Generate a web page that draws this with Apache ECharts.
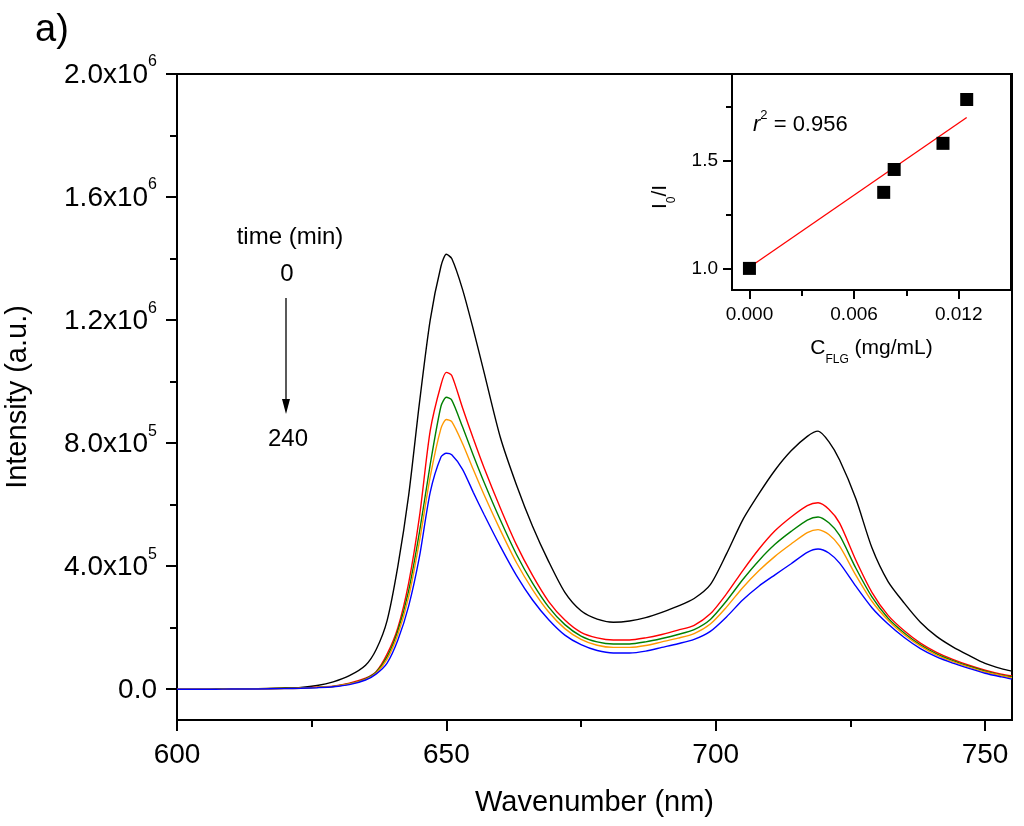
<!DOCTYPE html>
<html>
<head>
<meta charset="utf-8">
<script src="https://cdn.jsdelivr.net/npm/echarts@6/dist/echarts.min.js"></script>
<style>
html,body{margin:0;padding:0;background:#fff}
#chart{width:1024px;height:826px}
</style>
</head>
<body>
<div id="chart"></div>
<script>
// emission spectra, intensity in units of 1e3 counts
var wavelength=[600,605,607,610,615,620,623,626,629,632,635,637,639,641,643,645,647,649,650,651,653,655,657,660,663,666,669,672,675,678,681,684,687,690,693,696,699,702,705,708,711,714,717,719,721,723,726,729,732,735,738,741,744,747,750,753,755]
var int0=[null,null,2,2,2,4,6,12,24,44,78,130,223,400,630,930,1200,1375,1414,1400,1300,1170,1030,820,665,530,415,315,255,228,218,222,233,250,270,295,340,440,550,635,712,775,822,839,805,745,620,460,350,280,218,172,138,110,84,67,59]
var int1=[0,0,1,1,2,3,4,7,10,20,36,58,114,200,345,560,840,990,1030,1020,915,815,720,590,470,370,285,225,185,167,160,160,167,178,192,208,245,310,385,455,515,560,597,606,585,540,420,315,240,190,150,120,97,78,62,49,43]
var int2=[0,0,1,1,2,3,4,6,9,18,34,56,105,190,320,510,730,920,949,940,853,761,673,551,439,345,267,210,173,154,147,147,154,165,178,194,227,287,356,418,471,513,550,560,541,500,394,300,231,183,144,115,93,75,59,46,40]
var int3=[0,0,0,1,1,2,3,6,9,17,32,53,98,178,300,480,690,848,877,870,799,714,632,518,412,324,251,197,162,143,136,136,142,154,166,181,212,267,330,385,432,472,509,519,503,465,371,286,224,177,140,111,90,72,56,44,37]
var int4=[0,0,0,1,1,2,3,5,8,15,30,50,85,160,270,430,640,755,767,762,715,640,568,465,370,290,226,176,145,126,118,118,124,136,148,162,188,235,290,335,372,408,445,456,443,410,335,265,212,168,132,105,85,68,52,40,33]
var lineColors=['#000000','#ff0000','#008000','#ff9900','#0000ff']
var timeLabels=['0','240']

// inset: quenching ratio vs concentration
var concFLG=[0,0.0077,0.0083,0.0111,0.01246]
var ratioI0I=[1.0,1.352,1.458,1.579,1.782]
var fitX=[0,0.01246]
var fitY=[1.005,1.699]

var xMajor=[600,650,700,750]
var xMinor=[625,675,725]
var yMajor=[0,400000,800000,1200000,1600000,2000000]
var yMinor=[200000,600000,1000000,1400000,1800000]
var inXMajor=[0,0.006,0.012]
var inXMinor=[0.003,0.009]
var inYMajor=[1.0,1.5]
var inYMinor=[1.25,1.75]

var FONT='"Liberation Sans", Arial, sans-serif'
var chart=echarts.init(document.getElementById('chart'))

function yFmt(v){
  if(v===0) return '{a|0.0}'
  var e=Math.floor(Math.log10(v)+1e-9)
  var m=(v/Math.pow(10,e)).toFixed(1)
  return '{a|'+m+'x10}{s|'+e+'}'
}

var spectra=[int0,int1,int2,int3,int4].map(function(arr,k){
  return {
    type:'line',xAxisIndex:0,yAxisIndex:0,
    data:wavelength.map(function(w,i){return [w,arr[i]===null?null:arr[i]*1000]}),
    showSymbol:false,smooth:0.25,connectNulls:false,
    lineStyle:{color:lineColors[k],width:1.4},
    itemStyle:{color:lineColors[k]},
    z:2+k
  }
})

var axisLineStyle={onZero:false,lineStyle:{color:'#000',width:2}}
var noLine={show:false,onZero:false}

var option={
  animation:false,
  grid:[
    {left:177,top:74,right:12,bottom:106,outerBoundsMode:'none',containLabel:false,
     show:true,borderColor:'#000',borderWidth:2,backgroundColor:'transparent'},
    {left:732,top:74,right:13,bottom:536,outerBoundsMode:'none',containLabel:false,
     show:true,borderColor:'#000',borderWidth:2,backgroundColor:'#fff',z:10}
  ],
  xAxis:[
    {type:'value',gridIndex:0,min:600,max:755,position:'bottom',
     axisLine:axisLineStyle,
     axisTick:{customValues:xMajor,length:11,lineStyle:{color:'#000',width:2}},
     axisLabel:{customValues:xMajor,fontSize:28,fontFamily:FONT,color:'#000',margin:21},
     splitLine:{show:false},
     name:'Wavenumber (nm)',nameLocation:'middle',nameGap:68,
     nameTextStyle:{fontSize:29,fontFamily:FONT,color:'#000'}},
    {type:'value',gridIndex:0,min:600,max:755,position:'bottom',
     axisLine:noLine,
     axisTick:{customValues:xMinor,length:7,lineStyle:{color:'#000',width:2}},
     axisLabel:{show:false},splitLine:{show:false}},
    {type:'value',gridIndex:1,min:-0.001,max:0.015,position:'bottom',
     axisLine:axisLineStyle,
     axisTick:{customValues:inXMajor,length:9,lineStyle:{color:'#000',width:2}},
     axisLabel:{customValues:inXMajor,fontSize:19,fontFamily:FONT,color:'#000',margin:15,
       formatter:function(v){return v.toFixed(3)}},
     splitLine:{show:false},
     name:'{a|C}{s|FLG}{a| (mg/mL)}',nameLocation:'middle',nameGap:52,
     nameTextStyle:{rich:{
       a:{fontSize:21,fontFamily:FONT,color:'#000',lineHeight:24,padding:[0,0,7,0],verticalAlign:'bottom'},
       s:{fontSize:12,fontFamily:FONT,color:'#000',lineHeight:13,verticalAlign:'bottom'}}}},
    {type:'value',gridIndex:1,min:-0.001,max:0.015,position:'bottom',
     axisLine:noLine,
     axisTick:{customValues:inXMinor,length:6,lineStyle:{color:'#000',width:2}},
     axisLabel:{show:false},splitLine:{show:false}}
  ],
  yAxis:[
    {type:'value',gridIndex:0,min:-100000,max:2000000,position:'left',
     axisLine:axisLineStyle,
     axisTick:{customValues:yMajor,length:11,lineStyle:{color:'#000',width:2}},
     axisLabel:{customValues:yMajor,margin:20,formatter:yFmt,rich:{
       a:{fontSize:28,fontFamily:FONT,color:'#000',lineHeight:30,verticalAlign:'bottom'},
       s:{fontSize:16,fontFamily:FONT,color:'#000',lineHeight:16,padding:[0,0,19,0],verticalAlign:'bottom'}}},
     splitLine:{show:false},
     name:'Intensity (a.u.)',nameLocation:'middle',nameGap:145,
     nameTextStyle:{fontSize:29,fontFamily:FONT,color:'#000'}},
    {type:'value',gridIndex:0,min:-100000,max:2000000,position:'left',
     axisLine:noLine,
     axisTick:{customValues:yMinor,length:7,lineStyle:{color:'#000',width:2}},
     axisLabel:{show:false},splitLine:{show:false}},
    {type:'value',gridIndex:1,min:0.9,max:1.9,position:'left',
     axisLine:axisLineStyle,
     axisTick:{customValues:inYMajor,length:9,lineStyle:{color:'#000',width:2}},
     axisLabel:{customValues:inYMajor,fontSize:19,fontFamily:FONT,color:'#000',margin:14,
       formatter:function(v){return v.toFixed(1)}},
     splitLine:{show:false}},
    {type:'value',gridIndex:1,min:0.9,max:1.9,position:'left',
     axisLine:noLine,
     axisTick:{customValues:inYMinor,length:6,lineStyle:{color:'#000',width:2}},
     axisLabel:{show:false},splitLine:{show:false}}
  ],
  series:spectra.concat([
    {type:'line',xAxisIndex:2,yAxisIndex:2,
     data:fitX.map(function(x,i){return [x,fitY[i]]}),
     showSymbol:false,lineStyle:{color:'#ff0000',width:1.3},z:11},
    {type:'scatter',xAxisIndex:2,yAxisIndex:2,
     data:concFLG.map(function(x,i){return [x,ratioI0I[i]]}),
     symbol:'rect',symbolSize:13,itemStyle:{color:'#000',opacity:1},z:12}
  ]),
  graphic:[
    {type:'text',left:35,top:12,style:{text:'a)',fontSize:38,fontFamily:FONT,fill:'#000'}},
    {type:'text',x:290,y:237,style:{text:'time (min)',fontSize:24,fontFamily:FONT,fill:'#000',align:'center',verticalAlign:'middle'}},
    {type:'text',x:287,y:274,style:{text:timeLabels[0],fontSize:24,fontFamily:FONT,fill:'#000',align:'center',verticalAlign:'middle'}},
    {type:'text',x:288,y:439,style:{text:timeLabels[1],fontSize:24,fontFamily:FONT,fill:'#000',align:'center',verticalAlign:'middle'}},
    {type:'line',shape:{x1:286,y1:298,x2:286,y2:404},style:{stroke:'#000',lineWidth:1.3}},
    {type:'polygon',shape:{points:[[282,399],[290,399],[286,414]]},style:{fill:'#000'}},
    {type:'text',x:666,y:197,rotation:Math.PI/2,z:20,style:{text:'{a|I}{s|0}{a|/I}',align:'center',verticalAlign:'middle',rich:{
      a:{fontSize:21,fontFamily:FONT,fill:'#000',lineHeight:24,padding:[0,0,7,0],verticalAlign:'bottom'},
      s:{fontSize:12,fontFamily:FONT,fill:'#000',lineHeight:13,verticalAlign:'bottom'}}}},
    {type:'text',x:753,y:124,z:20,style:{text:'{i|r}{s|2}{a| = 0.956}',verticalAlign:'middle',rich:{
      i:{fontSize:22,fontFamily:FONT,fontStyle:'italic',fill:'#000',lineHeight:24,verticalAlign:'bottom'},
      a:{fontSize:22,fontFamily:FONT,fill:'#000',lineHeight:24,verticalAlign:'bottom'},
      s:{fontSize:13,fontFamily:FONT,fill:'#000',lineHeight:13,padding:[0,0,14,0],verticalAlign:'bottom'}}}}
  ]
}
chart.setOption(option)
</script>
</body>
</html>
